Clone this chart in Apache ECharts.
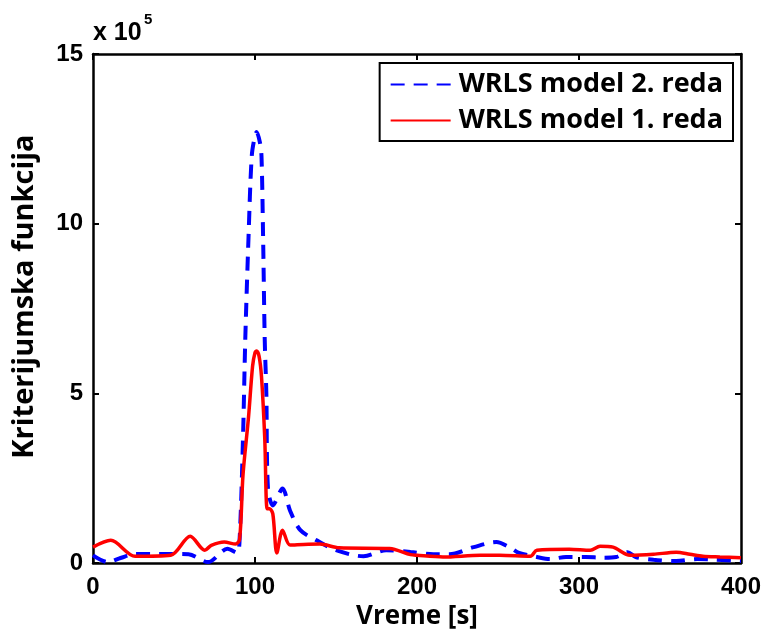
<!DOCTYPE html>
<html>
<head>
<meta charset="utf-8">
<script src="https://cdn.jsdelivr.net/npm/echarts@6/dist/echarts.min.js"></script>
<style>html,body{margin:0;padding:0;background:#fff}#c{width:770px;height:635px}</style>
</head>
<body>
<div id="c"></div>
<script>
// values in units of 10^5
const seriesNames = ['WRLS model 2. reda', 'WRLS model 1. reda'];
const xTicks = [0, 100, 200, 300, 400];
const yTicks = [0, 5, 10, 15];

const tBlue = [0, 9, 17, 26, 48, 59, 71, 83, 89, 90.5, 92.6, 94, 96, 98, 100, 101, 103, 104, 105, 106, 107, 108, 111, 117, 121.6, 128, 138, 150, 167, 181, 196, 210, 220, 235, 249, 257, 263, 274, 282, 292, 304, 315, 323, 330, 335, 346, 360, 373, 385, 400];
const vBlue = [0.23, 0.03, 0.15, 0.27, 0.27, 0.26, 0.03, 0.42, 0.3, 0.7, 3.7, 6.6, 9.6, 12.0, 12.6, 12.7, 12.4, 12.0, 9.6, 6.6, 5.0, 2.2, 1.7, 2.2, 1.55, 0.97, 0.67, 0.38, 0.2, 0.38, 0.33, 0.26, 0.26, 0.47, 0.62, 0.47, 0.3, 0.18, 0.12, 0.18, 0.18, 0.16, 0.18, 0.32, 0.18, 0.1, 0.06, 0.12, 0.1, 0.06];

const tRed = [0, 11, 26, 48, 60, 69, 73, 81, 88, 90.5, 92.6, 96, 98.5, 100, 101, 102.5, 104, 106, 107.5, 109, 111, 113.5, 117, 121.6, 130, 140, 152, 183, 196, 200, 216, 239, 251, 270, 274, 294, 307, 313, 321, 331.5, 346, 360, 368.5, 376.5, 387, 400];
const vRed = [0.47, 0.67, 0.2, 0.23, 0.79, 0.38, 0.52, 0.62, 0.56, 0.7, 2.6, 4.3, 5.8, 6.2, 6.25, 6.1, 5.5, 3.7, 1.6, 1.6, 1.45, 0.3, 0.97, 0.53, 0.55, 0.56, 0.45, 0.43, 0.25, 0.23, 0.18, 0.23, 0.23, 0.2, 0.38, 0.41, 0.38, 0.5, 0.47, 0.23, 0.26, 0.32, 0.26, 0.2, 0.18, 0.16];

const zip = (t, v) => t.map((x, i) => [x, v[i]]);

const chart = echarts.init(document.getElementById('c'));
const tickFont = {fontFamily: 'Liberation Sans, Arial', fontWeight: 'bold', fontSize: 24, color: '#000'};
const nameFont = {fontFamily: 'Open Sans', fontWeight: 'bold', fontSize: 26, color: '#000'};
const axLine = {show: true, onZero: false, lineStyle: {color: '#000', width: 2.5}};
const axTick = {show: true, inside: true, length: 6, lineStyle: {color: '#000', width: 2}};

chart.setOption({
  animation: false,
  backgroundColor: '#fff',
  graphic: [
    {type: 'text', left: 93, top: 21, style: {text: 'x 10', font: 'bold 25px "Liberation Sans", Arial', fill: '#000'}},
    {type: 'text', left: 144, top: 12, style: {text: '5', font: 'bold 15px "Liberation Sans", Arial', fill: '#000'}}
  ],
  grid: {left: 93, right: 29, top: 54, bottom: 69, containLabel: false},
  legend: {
    right: 37, top: 63,
    orient: 'vertical',
    itemWidth: 60, itemHeight: 14, itemGap: 9,
    padding: [8, 10, 7, 10],
    borderColor: '#000', borderWidth: 2,
    backgroundColor: '#fff',
    itemStyle: {opacity: 0},
    textStyle: {fontFamily: 'Open Sans', fontWeight: 'bold', fontSize: 27, color: '#000', padding: [0, 0, 0, 3]},
    data: seriesNames
  },
  xAxis: [
    {type: 'value', min: 0, max: 400, interval: 100, name: 'Vreme [s]', nameLocation: 'middle', nameGap: 30,
     nameTextStyle: nameFont, axisLine: axLine, axisTick: axTick, splitLine: {show: false},
     axisLabel: Object.assign({margin: 12, formatter: v => xTicks.includes(v) ? String(v) : ''}, tickFont)},
    {type: 'value', position: 'top', min: 0, max: 400, interval: 100, axisLine: axLine, axisTick: axTick,
     axisLabel: {show: false}, splitLine: {show: false}}
  ],
  yAxis: [
    {type: 'value', min: 0, max: 15, interval: 5, name: 'Kriterijumska funkcija', nameLocation: 'middle', nameGap: 54,
     nameTextStyle: Object.assign({padding: [0, 0, 0, 24]}, nameFont, {fontSize: 29}), axisLine: axLine, axisTick: axTick, splitLine: {show: false},
     axisLabel: Object.assign({margin: 10, formatter: v => yTicks.includes(v) ? String(v) : ''}, tickFont)},
    {type: 'value', position: 'right', min: 0, max: 15, interval: 5, axisLine: axLine, axisTick: axTick,
     axisLabel: {show: false}, splitLine: {show: false}}
  ],
  series: [
    {name: seriesNames[0], type: 'line', data: zip(tBlue, vBlue), showSymbol: false, symbol: 'none', smooth: 0.3,
     lineStyle: {color: '#0000ff', width: 4, type: [14, 9]}, itemStyle: {color: '#0000ff'}, z: 2},
    {name: seriesNames[1], type: 'line', data: zip(tRed, vRed), showSymbol: false, symbol: 'none', smooth: 0.3,
     lineStyle: {color: '#ff0000', width: 3.5}, itemStyle: {color: '#ff0000'}, z: 3}
  ]
});
</script>
</body>
</html>
